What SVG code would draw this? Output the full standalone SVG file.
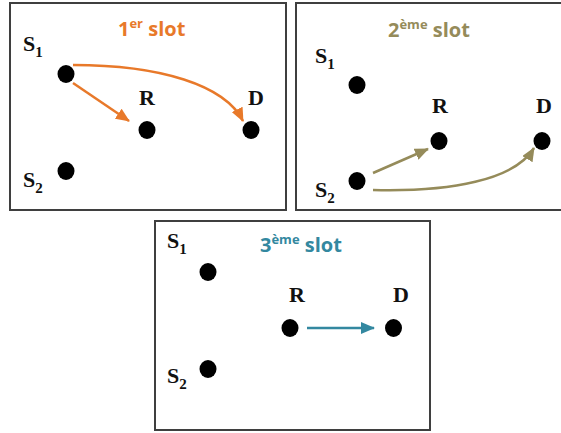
<svg xmlns="http://www.w3.org/2000/svg" width="561" height="433" viewBox="0 0 561 433">
<style>
.box{fill:#fff;stroke:#3f3f3f;stroke-width:2}
.node{fill:#000}
.lbl{font-family:"Liberation Serif","Times New Roman",serif;font-weight:bold;font-size:22px;fill:#111}
.sub{font-size:15px}
.title{font-family:"Open Sans","Liberation Sans",sans-serif;font-weight:bold;font-size:20px}
.sup{font-size:13px}
.a{fill:none;stroke-width:2.5}
</style>
<defs>
<marker id="mo" markerUnits="userSpaceOnUse" markerWidth="14" markerHeight="12" refX="13" refY="6" orient="auto"><path d="M0,0 L14,6 L0,12 Z" fill="#E8792A"/></marker>
<marker id="mg" markerUnits="userSpaceOnUse" markerWidth="14" markerHeight="12" refX="13" refY="6" orient="auto"><path d="M0,0 L14,6 L0,12 Z" fill="#958B5A"/></marker>
<marker id="mt" markerUnits="userSpaceOnUse" markerWidth="14" markerHeight="12" refX="13" refY="6" orient="auto"><path d="M0,0 L14,6 L0,12 Z" fill="#3388A0"/></marker>
</defs>

<g id="panel1">
<rect class="box" x="10" y="3" width="276" height="207"/>
<text class="title" x="118" y="36" fill="#E8792A">1<tspan class="sup" dy="-8">er</tspan><tspan dy="8"> slot</tspan></text>
<g id="p1-S1"><text class="lbl" x="23" y="51">S<tspan class="sub" dy="6">1</tspan></text><ellipse class="node" cx="66" cy="74" rx="8.5" ry="9"/></g>
<g id="p1-S2"><text class="lbl" x="23" y="187">S<tspan class="sub" dy="6">2</tspan></text><ellipse class="node" cx="66" cy="171" rx="8.5" ry="9"/></g>
<g id="p1-R"><text class="lbl" x="147" y="105" text-anchor="middle">R</text><ellipse class="node" cx="147" cy="130" rx="8.5" ry="9"/></g>
<g id="p1-D"><text class="lbl" x="256" y="105" text-anchor="middle">D</text><ellipse class="node" cx="251" cy="130" rx="8.5" ry="9"/></g>
</g>

<g id="panel2">
<rect class="box" x="296" y="3" width="270" height="207"/>
<text class="title" x="388" y="37" fill="#958B5A">2<tspan class="sup" dy="-8">ème</tspan><tspan dy="8"> slot</tspan></text>
<g id="p2-S1"><text class="lbl" x="315" y="63">S<tspan class="sub" dy="6">1</tspan></text><ellipse class="node" cx="357" cy="85" rx="8.5" ry="9"/></g>
<g id="p2-S2"><text class="lbl" x="315" y="197">S<tspan class="sub" dy="6">2</tspan></text><ellipse class="node" cx="357" cy="181" rx="8.5" ry="9"/></g>
<g id="p2-R"><text class="lbl" x="440" y="113" text-anchor="middle">R</text><ellipse class="node" cx="439" cy="141" rx="8.5" ry="9"/></g>
<g id="p2-D"><text class="lbl" x="544" y="113" text-anchor="middle">D</text><ellipse class="node" cx="542" cy="141" rx="8.5" ry="9"/></g>
</g>

<g id="panel3">
<rect class="box" x="155" y="221" width="275" height="209"/>
<text class="title" x="260" y="252" fill="#3388A0">3<tspan class="sup" dy="-8">ème</tspan><tspan dy="8"> slot</tspan></text>
<g id="p3-S1"><text class="lbl" x="167" y="248">S<tspan class="sub" dy="6">1</tspan></text><ellipse class="node" cx="208" cy="272" rx="8.5" ry="9"/></g>
<g id="p3-S2"><text class="lbl" x="167" y="383">S<tspan class="sub" dy="6">2</tspan></text><ellipse class="node" cx="208" cy="369" rx="8.5" ry="9"/></g>
<g id="p3-R"><text class="lbl" x="297" y="302" text-anchor="middle">R</text><ellipse class="node" cx="290" cy="328" rx="8.5" ry="9"/></g>
<g id="p3-D"><text class="lbl" x="401" y="302" text-anchor="middle">D</text><ellipse class="node" cx="393.5" cy="328" rx="8.5" ry="9"/></g>
</g>

<g id="connectors">
<path class="a" stroke="#E8792A" d="M73,83 L129,121" marker-end="url(#mo)"/>
<path class="a" stroke="#E8792A" d="M73,65 C160,65 225,85 243,121" marker-end="url(#mo)"/>
<path class="a" stroke="#958B5A" d="M373,173 L428,149" marker-end="url(#mg)"/>
<path class="a" stroke="#958B5A" d="M373,190 C450,192 515,180 534,148" marker-end="url(#mg)"/>
<path class="a" stroke="#3388A0" d="M307,328 L374,328" marker-end="url(#mt)"/>
</g>
</svg>
